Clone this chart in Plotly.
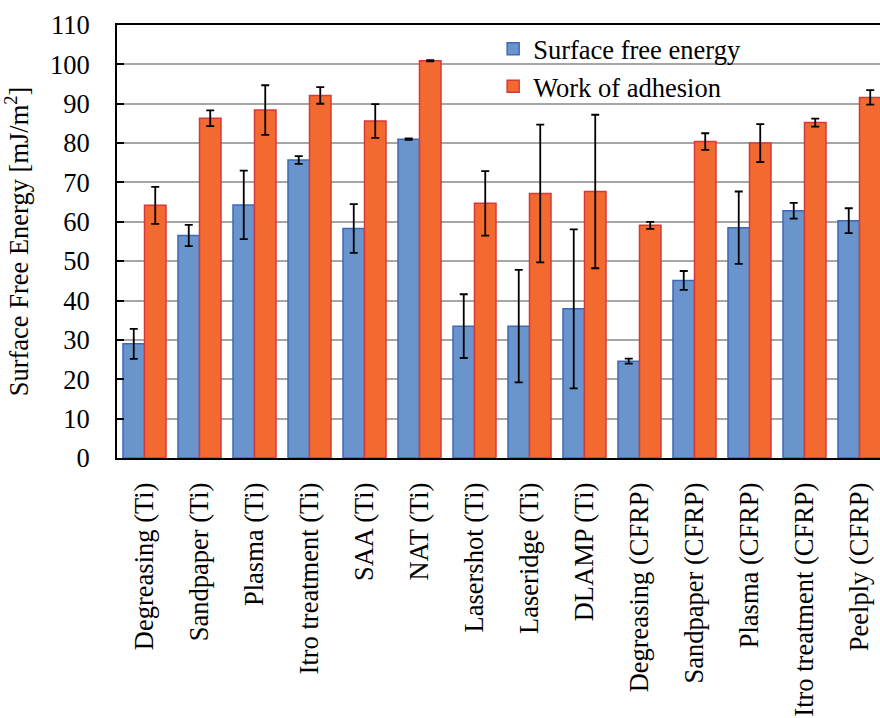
import plotly.graph_objects as go

# Surface treatments (Ti = titanium, CFRP = carbon-fibre composite)
categories = [
    "Degreasing (Ti)", "Sandpaper (Ti)", "Plasma (Ti)", "Itro treatment (Ti)",
    "SAA (Ti)", "NAT (Ti)", "Lasershot (Ti)", "Laseridge (Ti)", "DLAMP (Ti)",
    "Degreasing (CFRP)", "Sandpaper (CFRP)", "Plasma (CFRP)",
    "Itro treatment (CFRP)", "Peelply (CFRP)",
]

# Surface free energy [mJ/m^2] and its standard deviation
sfe_values = [29.0, 56.5, 64.3, 75.7, 58.3, 81.0, 33.5, 33.5, 37.9, 24.6, 45.1, 58.5, 62.8, 60.3]
sfe_errors = [3.8, 2.7, 8.7, 1.0, 6.2, 0.2, 8.1, 14.3, 20.2, 0.65, 2.4, 9.2, 2.0, 3.15]

# Work of adhesion [mJ/m^2] and its standard deviation
wa_values = [64.2, 86.3, 88.4, 92.1, 85.6, 100.9, 64.7, 67.2, 67.7, 59.1, 80.4, 80.0, 85.2, 91.6]
wa_errors = [4.7, 2.0, 6.3, 2.1, 4.3, 0.15, 8.2, 17.5, 19.5, 0.9, 2.1, 4.8, 1.0, 1.85]

y_ticks = list(range(0, 111, 10))

FONT = "'Liberation Serif', 'Times New Roman', 'DejaVu Serif', serif"
FS = 26.5

err_style = dict(type="data", thickness=1.8, width=4, color="black")

fig = go.Figure()
fig.add_trace(go.Bar(
    name="Surface free energy", x=categories, y=sfe_values,
    error_y=dict(array=sfe_errors, **err_style),
    marker=dict(color="#6A94CC", line=dict(color="#4068B8", width=1.5)),
))
fig.add_trace(go.Bar(
    name="Work of adhesion", x=categories, y=wa_values,
    error_y=dict(array=wa_errors, **err_style),
    marker=dict(color="#F26A30", line=dict(color="#D8383A", width=1.5)),
))

# white panel behind the legend, hiding the gridlines there
fig.add_shape(
    type="rect", xref="paper", yref="paper",
    x0=0.4666, x1=0.8794, y0=0.81, y1=1.0,
    fillcolor="white", line=dict(width=0), layer="between",
)

fig.update_layout(
    width=880, height=718,
    margin=dict(l=117, r=0, t=25, b=260, pad=0),
    paper_bgcolor="white", plot_bgcolor="white",
    font=dict(family=FONT, size=FS, color="black"),
    barmode="group", bargap=0.218, bargroupgap=0,
    showlegend=True,
    legend=dict(
        x=0.493, xanchor="left", y=1.0, yanchor="top",
        bgcolor="rgba(0,0,0,0)", borderwidth=0,
        font=dict(family=FONT, size=FS, color="black"),
        tracegroupgap=0,
    ),
    xaxis=dict(
        range=[-0.5, 13.373],
        showline=True, linecolor="black", linewidth=2, mirror=True,
        ticks="", tickangle=-90, ticklabelstandoff=12,
        tickfont=dict(family=FONT, size=FS, color="black"),
        showgrid=False, zeroline=False,
    ),
    yaxis=dict(
        range=[0, 110], tickvals=y_ticks,
        showline=True, linecolor="black", linewidth=2,
        ticks="inside", ticklen=7, tickwidth=2, tickcolor="black",
        ticklabelstandoff=20,
        tickfont=dict(family=FONT, size=FS, color="black"),
        showgrid=True, gridcolor="#A6A6A6", gridwidth=1.5,
        zeroline=False,
        title=dict(text="Surface Free Energy [mJ/m<sup>2</sup>]",
                   font=dict(family=FONT, size=FS, color="black"), standoff=14),
    ),
)

fig.write_html("out.html")
